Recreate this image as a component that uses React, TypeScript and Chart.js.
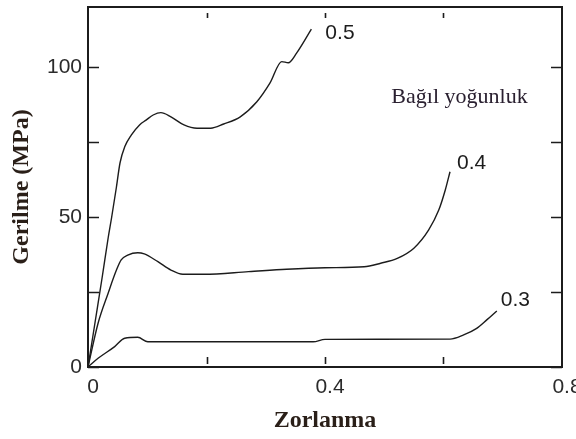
import React, { useEffect, useRef } from 'react';
import { Chart, registerables } from 'chart.js';

Chart.register(...registerables);

// Stress–strain curves for three relative densities
const SERIES_NAMES = ['0.5', '0.4', '0.3'];

const STRAIN_05 = [0, 0.012, 0.024, 0.034, 0.040, 0.048, 0.054, 0.062, 0.073, 0.087, 0.098, 0.110, 0.123, 0.140, 0.162, 0.184, 0.207, 0.229, 0.257, 0.285, 0.307, 0.327, 0.338, 0.352, 0.377];
const STRESS_05 = [0, 15, 30, 43, 50, 60, 68, 73.4, 77.3, 80.7, 82.3, 84, 84.8, 83.4, 80.7, 79.6, 79.6, 81, 83.4, 88.4, 94.6, 101.8, 101.4, 104.6, 112.6];

const STRAIN_04 = [0, 0.017, 0.034, 0.048, 0.056, 0.067, 0.084, 0.095, 0.118, 0.140, 0.160, 0.196, 0.271, 0.335, 0.400, 0.466, 0.494, 0.522, 0.550, 0.575, 0.592, 0.603, 0.611];
const STRESS_04 = [0, 14.6, 24.6, 32.3, 35.7, 37.3, 38.1, 37.7, 35.1, 32.3, 30.9, 30.9, 31.8, 32.6, 33.1, 33.4, 34.6, 36.2, 39.6, 45.7, 52.3, 59, 65.1];

const STRAIN_03 = [0, 0.017, 0.045, 0.062, 0.084, 0.101, 0.196, 0.380, 0.400, 0.611, 0.634, 0.656, 0.673, 0.690];
const STRESS_03 = [0, 2.9, 6.8, 9.6, 9.9, 8.4, 8.4, 8.4, 9.2, 9.3, 10.7, 12.9, 15.7, 18.7];

const X_TICKS = [0, 0.2, 0.4, 0.6, 0.8];
const X_LABELED = [0, 0.4, 0.8];
const Y_TICKS = [0, 25, 50, 75, 100];
const Y_LABELED = [0, 50, 100];

const X_TITLE = 'Zorlanma';
const Y_TITLE = 'Gerilme (MPa)';
const NOTE = 'Bağıl yoğunluk';

const INK = '#1c1c1c';
const TITLE_INK = '#2a1f18';
const SANS = '"Liberation Sans", Arial, sans-serif';
const SERIF = '"Liberation Serif", "Times New Roman", serif';

const toPoints = (xs: number[], ys: number[]) => xs.map((x, i) => ({ x, y: ys[i] }));

// Box frame with inward tick marks on all four sides
const framePlugin = {
  id: 'frameTicks',
  afterDraw(chart: any) {
    const { ctx, chartArea, scales } = chart;
    const { left, top, right, bottom } = chartArea;
    const xs = scales.x;
    const ys = scales.y;
    ctx.save();
    ctx.strokeStyle = INK;
    ctx.lineWidth = 2;
    ctx.strokeRect(left, top, right - left, bottom - top);
    ctx.lineWidth = 1.6;
    ctx.beginPath();
    for (const v of Y_TICKS) {
      const py = Math.round(ys.getPixelForValue(v)) + 0.5;
      ctx.moveTo(left, py);
      ctx.lineTo(left + 11, py);
      ctx.moveTo(right, py);
      ctx.lineTo(right - 11, py);
    }
    for (const v of X_TICKS) {
      if (v === 0 || v === 0.8) continue;
      const px = Math.round(xs.getPixelForValue(v)) + 0.5;
      ctx.moveTo(px, bottom - 3);
      ctx.lineTo(px, bottom - 10);
      ctx.moveTo(px, top + 6);
      ctx.lineTo(px, top + 11);
    }
    ctx.stroke();
    ctx.restore();
  },
};

// Density labels at the end of each curve, plus the legend note
const LABEL_SHIFT = [
  [14, 4],
  [7, -8],
  [4, -11],
];
const NOTE_AT = { x: 0.512, y: 88 };

const labelPlugin = {
  id: 'curveLabels',
  afterDatasetsDraw(chart: any) {
    const { ctx, scales } = chart;
    ctx.save();
    ctx.fillStyle = INK;
    ctx.font = `21px ${SANS}`;
    ctx.textAlign = 'left';
    ctx.textBaseline = 'middle';
    chart.data.datasets.forEach((ds: any, i: number) => {
      const meta = chart.getDatasetMeta(i);
      const last = meta.data[meta.data.length - 1];
      if (!last) return;
      ctx.fillText(ds.label, last.x + LABEL_SHIFT[i][0], last.y + LABEL_SHIFT[i][1]);
    });
    ctx.fillStyle = '#2a2030';
    ctx.font = `22px ${SERIF}`;
    ctx.textBaseline = 'alphabetic';
    ctx.fillText(NOTE, scales.x.getPixelForValue(NOTE_AT.x), scales.y.getPixelForValue(NOTE_AT.y));
    ctx.restore();
  },
};

export default function App() {
  const canvasRef = useRef<HTMLCanvasElement | null>(null);

  useEffect(() => {
    const canvas = canvasRef.current;
    if (!canvas) return;
    const curves = [
      toPoints(STRAIN_05, STRESS_05),
      toPoints(STRAIN_04, STRESS_04),
      toPoints(STRAIN_03, STRESS_03),
    ];
    const chart = new Chart(canvas, {
      type: 'line',
      data: {
        datasets: curves.map((pts, i) => ({
          label: SERIES_NAMES[i],
          data: pts,
          borderColor: INK,
          borderWidth: 1.4,
          pointRadius: 0,
          fill: false,
          cubicInterpolationMode: 'monotone' as const,
        })),
      },
      options: {
        animation: false,
        responsive: false,
        devicePixelRatio: 1,
        layout: { padding: { left: 0, top: 7, right: 14, bottom: 0 } },
        plugins: {
          legend: { display: false },
          tooltip: { enabled: false },
        },
        scales: {
          x: {
            type: 'linear',
            min: 0,
            max: 0.8,
            grid: { display: false, drawTicks: false },
            border: { display: false },
            ticks: {
              stepSize: 0.2,
              autoSkip: false,
              maxRotation: 0,
              padding: 8,
              labelOffset: 5,
              color: '#2b2b2b',
              font: { family: SANS, size: 21 },
              callback: (v: any) => {
                const n = Number(v);
                return X_LABELED.some((t) => Math.abs(t - n) < 1e-6) ? String(parseFloat(n.toFixed(1))) : '';
              },
            },
            title: {
              display: true,
              text: X_TITLE,
              color: TITLE_INK,
              padding: { top: 0, bottom: 4 },
              font: { family: SERIF, size: 24, weight: 'bold' },
            },
            afterFit: (scale: any) => {
              scale.height = 72;
              scale.paddingLeft = 0;
              scale.paddingRight = 0;
            },
          },
          y: {
            type: 'linear',
            min: 0,
            max: 120,
            grid: { display: false, drawTicks: false },
            border: { display: false },
            ticks: {
              stepSize: 25,
              autoSkip: false,
              padding: 6,
              color: '#2b2b2b',
              font: { family: SANS, size: 21 },
              callback: (v: any) => (Y_LABELED.includes(Number(v)) ? String(v) : ''),
            },
            title: {
              display: true,
              text: Y_TITLE,
              color: TITLE_INK,
              padding: { top: 7, bottom: 0 },
              font: { family: SERIF, size: 24, weight: 'bold' },
            },
            afterFit: (scale: any) => {
              scale.width = 88;
              scale.paddingTop = 0;
              scale.paddingBottom = 0;
            },
          },
        },
      },
      plugins: [framePlugin, labelPlugin],
    });
    return () => chart.destroy();
  }, []);

  return (
    <div style={{ position: 'fixed', left: 0, top: 0, width: 576, height: 439, background: '#fff' }}>
      <canvas ref={canvasRef} width={576} height={439} />
    </div>
  );
}
